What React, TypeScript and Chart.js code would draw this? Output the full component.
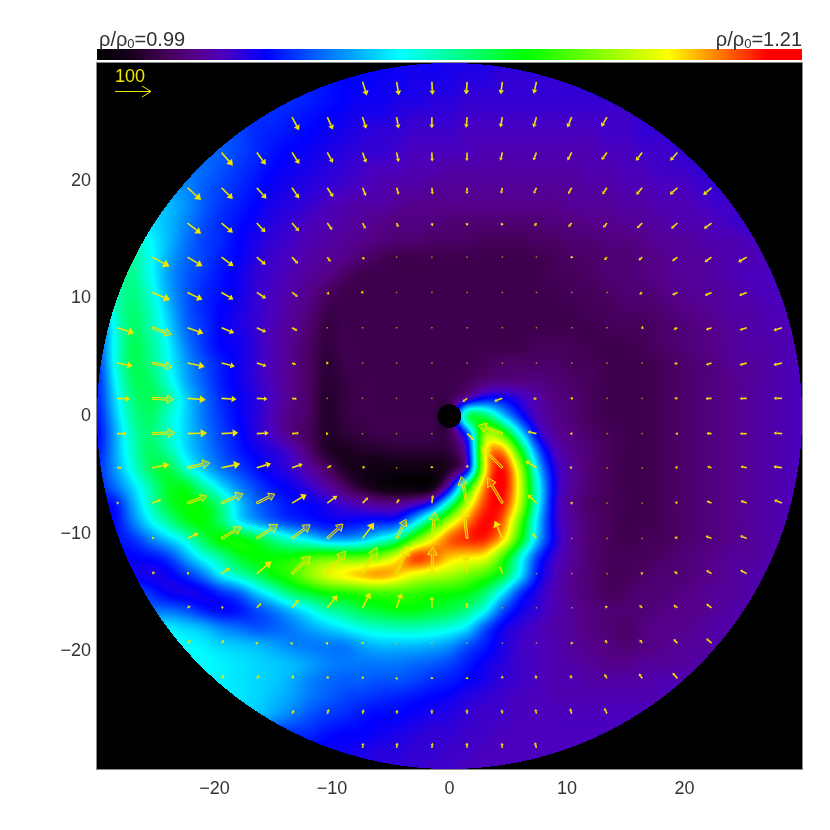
import React, { useEffect, useRef } from "react";
import { Chart, registerables } from "chart.js";

Chart.register(...registerables);

// Colour table: level (0-100 along the bar), r, g, b
const colourStops = [
  [0, 0, 0, 0], [5, 25, 0, 30], [10, 70, 0, 90], [14, 85, 0, 140], [18, 75, 0, 190], [24, 0, 0, 255],
  [43, 0, 255, 255], [61, 0, 255, 0], [81, 255, 255, 0], [95, 255, 0, 0], [100, 255, 0, 0],
];

const barLabels = ["0.99", "1.21"];
const axisTicks = [-20, -10, 0, 10, 20];

// Density, as a level on the colour bar. Rows run from y=30 to y=-30 and
// columns from x=-30 to x=30, in steps of 1.5. Each row starts at densityStart[row].
const gridStep = 1.5;
const densityStart = [12, 12, 11, 9, 8, 7, 6, 5, 4, 3, 2, 2, 1, 1, 0, 0, 0, 0, 0, 0, 0, 0, 0, 0, 0, 0, 0, 0, 0, 0, 0, 0, 0, 0, 6, 7, 8, 9, 12, 14, 14];
const densityRows = [
  [26,25,25,24,24,23,23,23,22,22,22,21,21,21,21,20],
  [26,25,24,24,23,23,22,22,22,21,21,20,20,20,20,20,20,20],
  [27,26,25,24,23,23,22,22,21,21,20,20,20,20,20,20,20,20,20,20],
  [27,27,26,25,24,23,22,22,21,20,20,20,19,19,19,19,19,19,19,19,19,19,20,20],
  [29,27,26,25,24,23,22,21,20,20,19,19,19,18,18,18,18,18,18,18,18,19,19,20,20],
  [31,29,27,25,24,23,22,21,20,20,19,18,18,18,18,17,17,17,17,17,17,17,18,18,19,19,20,20],
  [32,30,28,26,24,23,22,21,20,19,18,18,17,17,16,16,16,16,16,16,16,16,17,17,18,18,19,19,20,20],
  [34,31,29,27,25,23,22,21,20,19,18,17,16,16,15,15,15,15,15,15,15,15,15,16,16,17,17,18,18,19,20,20],
  [38,35,31,28,26,24,22,21,20,18,17,16,16,15,14,14,14,14,14,14,14,14,14,15,15,15,16,16,17,17,18,19,19,20],
  [40,38,34,30,27,25,23,21,20,18,17,16,15,14,13,13,13,12,12,12,12,12,12,13,13,14,14,15,15,16,17,17,18,19,20,20],
  [48,43,38,33,29,27,24,22,20,19,17,16,15,14,13,12,12,11,11,11,10,10,10,11,11,12,12,13,13,14,15,15,16,17,17,18,19,19],
  [50,44,37,32,29,26,24,21,19,18,16,15,14,12,10,9,9,9,9,9,9,9,9,9,10,11,11,12,12,13,14,15,15,16,17,17,18,19,19],
  [50,51,44,36,31,28,25,23,20,19,17,15,14,11,9,9,9,9,9,9,9,9,9,9,9,10,10,11,12,12,13,14,15,15,16,17,18,18,19],
  [48,52,46,37,31,27,25,23,20,18,16,14,11,9,9,9,9,9,9,9,9,9,9,9,9,9,10,10,11,12,12,13,14,15,15,16,17,18,18,19],
  [30,47,53,48,39,31,27,24,22,20,18,15,13,9,9,9,9,9,9,9,9,9,9,9,9,9,9,9,10,10,11,11,12,13,14,15,16,16,17,18,18],
  [28,44,54,49,41,32,28,24,22,20,17,15,12,8,9,9,9,9,9,9,9,9,9,9,9,9,9,9,9,10,10,10,11,12,13,14,15,16,17,17,18],
  [28,44,55,51,43,34,28,24,23,20,17,14,11,8,9,9,9,9,9,9,9,9,9,9,9,10,10,10,9,9,9,10,11,12,13,14,15,16,16,17,18],
  [27,44,55,52,44,36,30,26,23,20,17,14,11,7,9,9,9,9,9,9,9,9,10,11,11,11,11,10,10,9,9,9,10,11,12,13,15,15,16,17,18],
  [26,42,54,54,46,37,31,26,23,20,17,14,11,7,8,9,9,9,9,9,9,10,12,13,13,13,12,11,10,9,9,9,10,11,12,13,14,15,16,17,18],
  [26,40,52,55,50,40,33,27,24,21,18,14,11,6,8,9,9,9,9,9,9,16,24,24,20,16,13,12,10,9,9,9,10,11,12,13,14,15,16,17,18],
  [25,38,50,54,47,40,33,28,24,21,17,13,11,6,8,9,9,9,9,9,9,55,55,40,26,17,14,12,10,9,9,9,10,11,12,13,14,15,16,17,18],
  [24,36,48,53,47,40,34,29,25,21,18,13,10,6,7,8,9,9,9,9,9,28,72,66,43,22,15,13,11,10,9,9,10,11,12,13,14,15,16,17,18],
  [25,36,47,54,50,41,35,30,26,23,21,18,12,6,5,6,6,7,7,7,8,20,80,88,62,32,18,14,12,10,9,9,10,11,12,13,14,15,16,17,18],
  [27,35,45,54,57,47,39,33,29,25,22,20,16,11,6,4,3,3,3,3,6,20,80,95,75,40,21,15,12,10,9,9,10,11,12,13,14,15,16,17,18],
  [26,32,40,49,58,59,50,41,34,29,25,23,20,16,11,6,3,1,1,2,20,58,88,96,78,45,22,15,12,10,9,9,10,11,12,13,14,15,16,17,18],
  [24,25,36,47,57,61,60,52,40,32,28,25,24,22,19,17,15,15,18,26,50,76,92,94,76,44,21,14,11,10,9,9,10,11,12,13,14,15,16,17,18],
  [24,24,33,42,50,58,61,54,42,36,31,28,26,24,24,25,26,27,40,58,76,88,95,90,68,40,21,15,12,10,9,9,10,11,12,13,14,15,16,17,18],
  [25,25,27,33,39,45,55,62,62,58,52,46,42,37,36,38,44,51,68,80,90,93,93,84,62,38,22,15,12,10,9,10,10,11,12,13,14,15,16,17,17],
  [24,24,24,25,28,36,44,50,58,61,61,62,66,68,68,68,72,80,92,90,84,82,80,66,46,28,19,15,12,10,10,10,11,12,13,14,15,15,16,17,17],
  [24,24,23,22,23,27,33,42,48,54,61,65,72,78,82,85,87,84,79,76,74,70,66,58,42,25,18,14,12,10,10,11,12,12,13,14,15,16,17,17,17],
  [30,30,30,27,23,22,23,27,31,39,46,54,58,62,63,65,66,66,65,63,62,60,54,42,28,21,17,14,12,10,11,12,12,13,14,15,15,16,17,17,17],
  [32,32,32,32,32,30,26,24,25,29,33,38,43,49,52,56,58,60,60,58,56,52,44,30,23,20,17,15,13,12,12,12,13,14,14,15,16,17,17,17,17],
  [42,42,42,42,42,40,38,34,32,30,31,33,36,39,42,45,47,48,48,47,45,41,30,23,20,18,16,15,13,12,11,13,14,14,15,16,16,17,17,17,17],
  [43,43,43,43,43,43,42,40,39,38,36,34,33,33,33,36,38,38,38,37,35,30,26,22,19,18,17,15,14,13,12,13,14,15,15,16,17,17,17,17,17],
  [43,42,41,40,39,38,36,34,33,33,33,33,32,31,29,26,23,21,19,18,17,16,15,14,14,15,15,15,16,16,17,17,17],
  [42,41,40,39,37,34,32,31,31,30,30,29,27,26,24,22,20,19,18,17,17,16,16,16,16,17,17,17,17],
  [41,40,38,36,33,31,29,28,27,26,25,24,23,21,20,19,18,18,17,17,17,17,17,17,17,18],
  [38,36,33,30,28,27,25,24,24,23,22,21,20,19,19,18,18,18,18,18,18,18,18,18],
  [27,25,24,24,23,22,21,20,20,19,19,18,18,18,18,18,18,18,18,18],
  [23,22,21,21,20,20,19,19,18,18,18,18,18,18],
  [22,22,21,20,20,19,19,18,18,18,18,18],
];

// Velocity arrows.
const arrowX = [-28.3, -25.3, -22.3, -19.4, -16.4, -13.4, -10.4, -7.4, -4.5, -1.5, 1.5, 4.5, 7.4, 10.4, 13.4, 16.4, 19.4, 22.3, 25.3, 28.3];
const arrowY = [28.4, 25.4, 22.4, 19.4, 16.4, 13.5, 10.5, 7.5, 4.5, 1.5, -1.5, -4.4, -7.4, -10.4, -13.4, -16.3, -19.3, -22.3, -25.3, -28.2];
const arrowStart = [7, 5, 3, 2, 2, 1, 1, 0, 0, 0, 0, 0, 0, 1, 1, 2, 2, 3, 5, 7];
const arrowU = [
  [13,7,2,-3,-5,-8],
  [21,17,11,6,0,-3,-6,-9,-13,-17],
  [34,27,22,17,11,6,1,-1,-6,-9,-13,-16,-19,-22],
  [41,34,29,21,18,10,6,2,-1,-4,-8,-11,-14,-18,-23,-25],
  [41,34,26,21,15,9,5,2,-1,-3,-6,-10,-11,-16,-19,-23],
  [52,45,36,27,18,10,6,0,0,0,0,-1,-3,-8,-11,-16,-21,-26],
  [54,45,36,28,18,6,3,2,0,0,-1,-2,-2,-2,-9,-16,-20,-23],
  [52,57,48,38,28,16,2,1,0,0,0,0,0,0,-2,-4,-12,-17,-22,-26],
  [47,59,52,40,29,12,5,2,1,0,2,1,1,-2,0,0,-10,-17,-22,-26],
  [40,64,55,45,32,15,3,1,3,2,-14,-25,-10,-5,-1,0,-10,-18,-21,-25],
  [29,68,59,50,36,21,4,2,2,3,21,-72,-27,-6,-1,-3,-7,-15,-21,-25],
  [15,51,67,56,43,32,13,8,3,0,1,-63,-34,-7,-1,0,-8,-13,-19,-26],
  [7,27,58,64,54,44,30,17,8,3,-18,-45,-27,-5,0,-1,-8,-15,-19,-24],
  [7,33,59,63,54,47,35,28,9,-11,-23,-12,-1,0,-3,-9,-18,-20],
  [8,6,25,44,55,55,44,34,3,-5,-8,-1,0,-3,-5,-10,-16,-20],
  [9,7,13,20,31,23,15,0,-2,-1,0,0,-6,-9,-12,-16],
  [10,8,4,3,3,3,1,0,0,0,0,-3,-6,-8,-12,-16],
  [8,8,5,3,2,1,0,0,-1,-3,-5,-8,-10,-15],
  [6,5,3,2,0,-1,-2,-3,-5,-8],
  [2,2,2,-1,-2,-5],
];
const arrowV = [
  [-41,-40,-39,-38,-37,-36],
  [-39,-37,-35,-34,-33,-32,-31,-31,-31,-29],
  [-40,-37,-35,-31,-31,-29,-27,-26,-25,-24,-24,-23,-25,-25],
  [-37,-34,-33,-32,-28,-25,-21,-20,-19,-18,-18,-19,-20,-21,-21,-22],
  [-32,-29,-28,-25,-21,-17,-13,-10,-9,-9,-10,-12,-14,-16,-17,-17],
  [-28,-27,-27,-23,-20,-14,-8,-3,-2,-2,-1,-3,-4,-9,-10,-12,-15,-15],
  [-23,-22,-21,-18,-13,-6,-3,-1,-2,-2,-1,-1,-1,-1,-6,-8,-9,-9],
  [-16,-20,-17,-16,-13,-9,-1,-1,-1,-1,0,-1,-1,-1,-1,-2,-5,-6,-7,-8],
  [-9,-12,-11,-10,-9,-5,0,0,0,0,0,0,-1,0,-2,0,-3,-5,-6,-6],
  [-2,-3,-4,-3,-2,-2,0,0,0,0,-11,-9,-2,0,0,-2,0,-1,-1,0],
  [0,3,2,3,2,2,0,0,0,0,-19,25,6,0,0,0,0,1,0,2],
  [1,10,15,12,13,11,7,4,0,7,10,63,21,2,0,0,2,4,4,4],
  [1,10,21,28,27,26,22,17,12,24,80,77,26,2,1,0,3,6,7,9],
  [3,16,34,42,41,43,47,57,80,92,53,16,0,0,0,5,7,8],
  [6,4,18,37,52,68,79,83,80,58,23,3,0,1,4,7,10,11],
  [6,3,14,25,38,46,44,34,16,1,0,0,6,8,9,12],
  [9,9,3,2,3,5,3,1,0,0,2,4,10,11,12,14],
  [11,10,10,8,7,5,6,6,9,10,10,13,15,17],
  [12,14,13,12,13,14,13,14,16,17],
  [15,16,15,16,15,17],
];

const referenceSpeed = 100;
const arrowPixelsPerUnit = 1 / 3;
const referenceArrowPixels = 36;

function levelColour(level: number): number[] {
  const l = Math.max(0, Math.min(100, level));
  for (let i = 1; i < colourStops.length; i++) {
    const a = colourStops[i - 1];
    const b = colourStops[i];
    if (l <= b[0]) {
      const t = (l - a[0]) / (b[0] - a[0]);
      return [a[1] + (b[1] - a[1]) * t, a[2] + (b[2] - a[2]) * t, a[3] + (b[3] - a[3]) * t];
    }
  }
  return colourStops[colourStops.length - 1].slice(1);
}

function cellAt(c: number, r: number): number {
  const row = densityRows[Math.max(0, Math.min(densityRows.length - 1, r))];
  const start = densityStart[Math.max(0, Math.min(densityRows.length - 1, r))];
  return row[Math.max(0, Math.min(row.length - 1, c - start))];
}

function cubic(p0: number, p1: number, p2: number, p3: number, t: number): number {
  return p1 + 0.5 * t * (p2 - p0 + t * (2 * p0 - 5 * p1 + 4 * p2 - p3 + t * (3 * (p1 - p2) + p3 - p0)));
}

function sampleAt(x: number, y: number): number {
  const fc = (x + 30) / gridStep;
  const fr = (30 - y) / gridStep;
  const c = Math.floor(fc);
  const r = Math.floor(fr);
  const rowValues = [];
  for (let j = -1; j <= 2; j++) {
    rowValues.push(cubic(cellAt(c - 1, r + j), cellAt(c, r + j), cellAt(c + 1, r + j), cellAt(c + 2, r + j), fc - c));
  }
  return cubic(rowValues[0], rowValues[1], rowValues[2], rowValues[3], fr - r);
}

// Soft reconstruction of the picture between the cells, so that the cells do not show.
function densityAt(x: number, y: number): number {
  const d = 0.5;
  return (
    0.4 * sampleAt(x, y) +
    0.15 * (sampleAt(x - d, y) + sampleAt(x + d, y) + sampleAt(x, y - d) + sampleAt(x, y + d))
  );
}

const fieldPlugin = {
  id: "field",
  beforeDatasetsDraw(chart: any) {
    const { ctx, chartArea: a, scales } = chart;
    const w = Math.round(a.right - a.left);
    const h = Math.round(a.bottom - a.top);
    const off = document.createElement("canvas");
    off.width = w;
    off.height = h;
    const octx = off.getContext("2d")!;
    const img = octx.createImageData(w, h);
    for (let py = 0; py < h; py++) {
      const y = scales.y.getValueForPixel(a.top + py + 0.5);
      for (let px = 0; px < w; px++) {
        const x = scales.x.getValueForPixel(a.left + px + 0.5);
        const r = Math.hypot(x, y);
        let col = [0, 0, 0];
        if (r <= 30 && r > 1.0) col = levelColour(densityAt(x, y));
        const k = (py * w + px) * 4;
        img.data[k] = col[0];
        img.data[k + 1] = col[1];
        img.data[k + 2] = col[2];
        img.data[k + 3] = 255;
      }
    }
    octx.putImageData(img, 0, 0);
    ctx.drawImage(off, a.left, a.top);
  },
};

function drawArrow(ctx: CanvasRenderingContext2D, x0: number, y0: number, dx: number, dy: number) {
  const len = Math.hypot(dx, dy);
  if (len < 1.2) {
    ctx.globalAlpha = 0.6;
    ctx.fillRect(x0 - 0.75, y0 - 0.75, 1.5, 1.5);
    ctx.globalAlpha = 1;
    return;
  }
  const ux = dx / len;
  const uy = dy / len;
  const nx = -uy;
  const ny = ux;
  const tx = x0 + dx;
  const ty = y0 + dy;
  if (len < 20) {
    const head = Math.max(2.5, 0.33 * len);
    const wing = Math.max(1.7, 0.22 * len);
    const bx = tx - ux * head;
    const by = ty - uy * head;
    ctx.lineWidth = 1.6;
    ctx.beginPath();
    ctx.moveTo(x0, y0);
    ctx.lineTo(bx, by);
    ctx.stroke();
    ctx.beginPath();
    ctx.moveTo(bx + nx * wing, by + ny * wing);
    ctx.lineTo(tx, ty);
    ctx.lineTo(bx - nx * wing, by - ny * wing);
    ctx.closePath();
    ctx.fill();
    return;
  }
  const head = Math.min(9, 0.3 * len);
  const wing = Math.min(5, 0.2 * len);
  const shaft = 1.1;
  const bx = tx - ux * head;
  const by = ty - uy * head;
  ctx.lineWidth = 1;
  ctx.beginPath();
  ctx.moveTo(x0 + nx * shaft, y0 + ny * shaft);
  ctx.lineTo(bx + nx * shaft, by + ny * shaft);
  ctx.lineTo(bx + nx * wing, by + ny * wing);
  ctx.lineTo(tx, ty);
  ctx.lineTo(bx - nx * wing, by - ny * wing);
  ctx.lineTo(bx - nx * shaft, by - ny * shaft);
  ctx.lineTo(x0 - nx * shaft, y0 - ny * shaft);
  ctx.closePath();
  ctx.globalAlpha = 0.35;
  ctx.fill();
  ctx.globalAlpha = 1;
  ctx.stroke();
}

const arrowPlugin = {
  id: "arrows",
  afterDatasetsDraw(chart: any) {
    const { ctx, scales } = chart;
    ctx.save();
    ctx.strokeStyle = "#f0e400";
    ctx.fillStyle = "#f0e400";
    for (const p of chart.data.datasets[0].data) {
      drawArrow(ctx, scales.x.getPixelForValue(p.x), scales.y.getPixelForValue(p.y), p.u * arrowPixelsPerUnit, -p.v * arrowPixelsPerUnit);
    }
    // reference arrow
    const rx = 115;
    const ry = 91.5;
    ctx.lineWidth = 1;
    ctx.beginPath();
    ctx.moveTo(rx, ry);
    ctx.lineTo(rx + referenceArrowPixels, ry);
    ctx.moveTo(rx + referenceArrowPixels - 9, ry - 5.5);
    ctx.lineTo(rx + referenceArrowPixels, ry);
    ctx.lineTo(rx + referenceArrowPixels - 9, ry + 5.5);
    ctx.stroke();
    ctx.font = "18px 'Liberation Sans'";
    ctx.textAlign = "left";
    ctx.textBaseline = "alphabetic";
    ctx.fillText(String(referenceSpeed), 115, 82);
    ctx.restore();
  },
};

function barLabelWidth(ctx: CanvasRenderingContext2D, value: string): number {
  ctx.font = "20px 'Liberation Sans'";
  let w = ctx.measureText("ρ/ρ").width + ctx.measureText("=" + value).width;
  ctx.font = "13px 'Liberation Sans'";
  w += ctx.measureText("0").width;
  return w;
}

function drawBarLabel(ctx: CanvasRenderingContext2D, value: string, x: number, y: number) {
  ctx.font = "20px 'Liberation Sans'";
  ctx.fillText("ρ/ρ", x, y);
  x += ctx.measureText("ρ/ρ").width;
  ctx.font = "13px 'Liberation Sans'";
  ctx.fillText("0", x, y + 2);
  x += ctx.measureText("0").width;
  ctx.font = "20px 'Liberation Sans'";
  ctx.fillText("=" + value, x, y);
}

const framePlugin = {
  id: "frame",
  afterDraw(chart: any) {
    const { ctx, chartArea: a } = chart;
    ctx.save();
    ctx.strokeStyle = "#8a8a8a";
    ctx.lineWidth = 1;
    ctx.strokeRect(a.left - 0.5, a.top - 0.5, a.right - a.left + 1, a.bottom - a.top + 1);
    const top = 49;
    const height = 11;
    const w = a.right - a.left;
    for (let i = 0; i < w; i++) {
      const c = levelColour(((i + 0.5) / w) * 100);
      ctx.fillStyle = `rgb(${c[0]},${c[1]},${c[2]})`;
      ctx.fillRect(a.left + i, top, 1, height);
    }
    ctx.fillStyle = "#ffffff";
    ctx.fillRect(a.left - 1, top + height, w + 2, a.top - top - height - 1);
    ctx.fillStyle = "#333333";
    ctx.textAlign = "left";
    ctx.textBaseline = "alphabetic";
    drawBarLabel(ctx, barLabels[0], a.left + 2, 46);
    drawBarLabel(ctx, barLabels[1], a.right - barLabelWidth(ctx, barLabels[1]), 46);
    ctx.restore();
  },
};

export default function App() {
  const ref = useRef<HTMLCanvasElement>(null);
  useEffect(() => {
    const points: any[] = [];
    arrowU.forEach((row, r) => {
      row.forEach((u, i) => {
        points.push({ x: arrowX[arrowStart[r] + i], y: arrowY[r], u, v: arrowV[r][i] });
      });
    });
    const tickText = (v: any) => {
      if (!axisTicks.includes(Number(v))) return "";
      return Number(v) < 0 ? "\u2212" + Math.abs(Number(v)) : String(v);
    };
    const chart = new Chart(ref.current!, {
      type: "scatter",
      data: { datasets: [{ label: "velocity", data: points, pointRadius: 0, showLine: false }] },
      plugins: [fieldPlugin, arrowPlugin, framePlugin],
      options: {
        animation: false,
        responsive: false,
        maintainAspectRatio: false,
        events: [],
        layout: { padding: { top: 63, right: 28, left: 0, bottom: 0 } },
        plugins: { legend: { display: false }, title: { display: false }, tooltip: { enabled: false } },
        scales: {
          x: {
            type: "linear",
            min: -30,
            max: 30,
            afterFit: (s: any) => { s.height = 61; },
            grid: { display: false, drawTicks: false },
            border: { display: false },
            ticks: { stepSize: 10, autoSkip: false, maxRotation: 0, padding: 9, color: "#333333", font: { family: "Liberation Sans", size: 18 }, callback: tickText },
          },
          y: {
            type: "linear",
            min: -30,
            max: 30,
            afterFit: (s: any) => { s.width = 97; },
            grid: { display: false, drawTicks: false },
            border: { display: false },
            ticks: { stepSize: 10, autoSkip: false, padding: 6, color: "#333333", font: { family: "Liberation Sans", size: 18 }, callback: tickText },
          },
        },
      } as any,
    });
    return () => chart.destroy();
  }, []);
  return (
    <div style={{ position: "absolute", left: 0, top: 0, width: 830, height: 830, background: "#ffffff" }}>
      <canvas ref={ref} width={830} height={830} style={{ display: "block" }} />
    </div>
  );
}
